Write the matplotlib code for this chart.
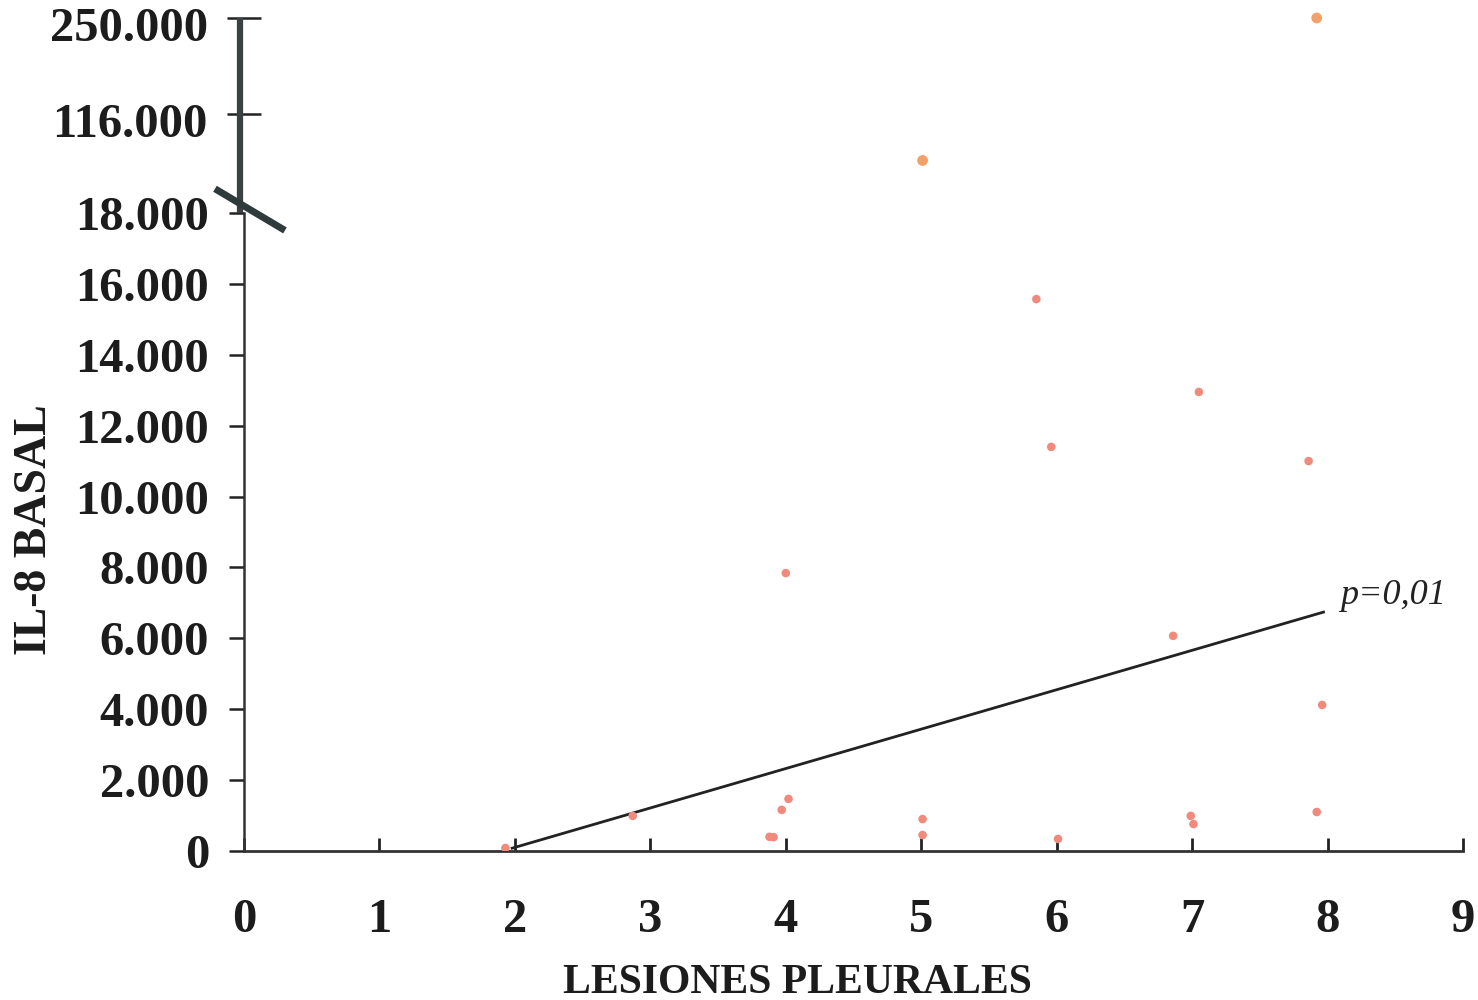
import numpy as np
import matplotlib
matplotlib.use("Agg")
import matplotlib.pyplot as plt
from matplotlib.transforms import ScaledTranslation, blended_transform_factory

# ---- data ----
lesiones = [1.93, 2.87, 3.88, 3.91, 3.97, 4.02, 4.00, 5.01, 5.01, 5.85, 5.96,
            6.01, 6.86, 6.99, 7.01, 7.05, 7.86, 7.92, 7.96]
il8 = [85, 990, 400, 390, 1160, 1470, 7840, 900, 450, 15570, 11400,
       340, 6070, 990, 760, 12950, 11000, 1100, 4120]
lesiones_high = [5.01, 7.92]
il8_high = [70000, 250000]
trend_x = [1.98, 7.97]
trend_y = [80, 6740]
yticks_low = [0, 2000, 4000, 6000, 8000, 10000, 12000, 14000, 16000, 18000]
yticks_low_labels = ["0", "2.000", "4.000", "6.000", "8.000", "10.000",
                     "12.000", "14.000", "16.000", "18.000"]
yticks_high = [116000, 250000]
yticks_high_labels = ["116.000", "250.000"]
xticks = list(range(0, 10))

# broken-axis scale (piecewise linear)
brk_v = [0, 18000, 116000, 250000]
brk_u = [0, 18, 20.79, 23.50]
def fwd(v):
    return np.interp(v, brk_v, brk_u)
def inv(u):
    return np.interp(u, brk_u, brk_v)

serif = ["Liberation Serif", "DejaVu Serif"]
plt.rcParams["font.family"] = serif

fig = plt.figure(figsize=(14.78, 10), dpi=100)
ax = fig.add_axes([244/1478, 1-851/1000, (1463-244)/1478, (851-18)/1000])
ax.set_yscale("function", functions=(fwd, inv))
ax.set_xlim(0, 9)
ax.set_ylim(0, 250000)

ink = "#1c1c1c"
ax.scatter(lesiones, il8, s=38, color="#f08a7c", edgecolors="none", zorder=3)
ax.scatter(lesiones_high, il8_high, s=60, color="#f3a06a", edgecolors="none", zorder=3, clip_on=False)
ax.plot(trend_x, trend_y, color="#222222", lw=2.0, zorder=2)
ax.text(trend_x[-1] + 0.12, trend_y[-1], "p=0,01", fontsize=26,
        style="italic", color="#222222", ha="left", va="bottom")

for s in ["top", "right"]:
    ax.spines[s].set_visible(False)
ax.spines["left"].set_bounds(0, 18000)
ax.spines["left"].set_color("#333333")
ax.spines["left"].set_linewidth(1.8)
ax.spines["bottom"].set_color("#333333")
ax.spines["bottom"].set_linewidth(2.0)

# upper thick axis segment
tr = blended_transform_factory(ax.transAxes, ax.transData)
ax.plot([-0.003, -0.003], [18000, 250000], transform=tr, color="#3b4142",
        lw=4.5, clip_on=False, solid_capstyle="butt", zorder=4)
# break mark
ax.plot([-0.0238, 0.0336], [0.795, 0.745], transform=ax.transAxes,
        color="#2f3a3a", lw=5, clip_on=False, solid_capstyle="butt", zorder=5)

ax.set_xticks(xticks)
ax.set_xticklabels([str(t) for t in xticks])
ax.set_yticks(yticks_low)
ax.set_yticklabels(yticks_low_labels)
ax.set_yticks(yticks_high, minor=True)
ax.set_yticklabels(yticks_high_labels, minor=True)

ax.tick_params(axis="x", direction="in", length=9.5, width=2, color="#222222",
               pad=34, labelsize=35, labelcolor=ink)
ax.tick_params(axis="y", which="major", direction="out", length=11, width=1.8,
               color="#222222", pad=14, labelsize=35, labelcolor=ink)
ax.tick_params(axis="y", which="minor", direction="inout", length=24, width=1.8,
               color="#222222", pad=14, labelsize=35, labelcolor=ink)
for lab in ax.get_xticklabels() + ax.get_yticklabels() + ax.get_yticklabels(minor=True):
    lab.set_fontweight("bold")
for lab in ax.get_yticklabels(minor=True):
    lab.set_transform(lab.get_transform() + ScaledTranslation(0, -6/100, fig.dpi_scale_trans))

ax.set_xlabel("LESIONES PLEURALES", fontsize=30, fontweight="bold", color=ink)
ax.xaxis.set_label_coords((797-244)/1219, -(983-851)/833, )
ax.xaxis.label.set_va("center")
ax.set_ylabel("IL-8 BASAL", fontsize=33, fontweight="bold", color=ink)
ax.yaxis.set_label_coords((56-244)/1219, (851-530)/833)

fig.savefig("out.png", dpi=100, facecolor="white")
